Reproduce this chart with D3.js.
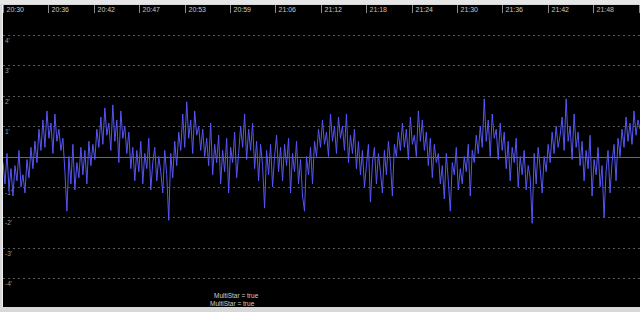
<!DOCTYPE html>
<html><head><meta charset="utf-8">
<script src="https://cdn.jsdelivr.net/npm/d3@7"></script>
<style>html,body{margin:0;padding:0;background:#d8d8d8;overflow:hidden}svg{display:block}</style>
</head><body>
<script>
const timeLabels = ["20:30","20:36","20:42","20:47","20:53","20:59","21:06","21:12","21:18","21:24","21:30","21:36","21:42","21:48",""];
const highlightLabels = ["21:18","21:48"];
const yTicks = [4,3,2,1,0,-1,-2,-3,-4];
const footerLines = ["MultiStar = true","MultiStar = true"];
const values = [
-0.2,-0.9,0.1,-1.1,-0.4,-1.3,-0.3,-0.8,0.2,-1.0,
-0.6,-1.2,-0.1,-0.7,0.3,-0.4,0.5,-0.2,0.9,0.2,
1.2,0.3,1.5,0.6,1.1,0.1,1.4,0.5,0.9,0.2,
0.6,-0.5,-1.8,0.0,-0.9,0.4,-1.1,-0.2,-0.7,0.3,
-0.6,0.2,-0.9,0.5,-0.3,0.4,-0.1,0.9,0.3,1.3,
0.4,1.6,0.7,1.1,0.2,1.7,0.5,1.2,-0.2,1.5,
0.6,1.0,0.1,0.8,-0.4,0.3,-0.8,0.2,-0.5,0.5,
-0.9,0.1,-0.4,0.6,-1.1,-0.2,0.3,-0.8,0.0,-0.5,
-1.2,0.2,-0.6,-2.1,0.1,-0.7,0.5,-0.3,0.8,0.2,
1.4,0.3,1.8,0.6,1.2,0.1,1.5,0.7,1.0,0.2,
0.9,0.0,0.6,-0.3,1.1,-0.6,0.4,-0.2,0.7,-0.9,
0.2,-0.5,0.6,-1.2,0.3,-0.2,0.8,-0.7,0.1,1.0,
0.3,1.4,-0.1,0.9,0.2,1.1,-0.4,0.5,-0.8,0.4,
-0.3,-1.7,0.2,-0.6,0.4,-1.0,0.0,0.7,-0.5,0.3,
-0.8,0.4,-0.3,0.6,-1.2,0.1,-0.5,0.5,-0.9,-0.1,
-1.3,-1.8,0.0,-0.6,0.3,-0.9,0.5,0.0,0.9,0.3,
1.2,0.4,0.8,0.0,1.4,0.5,1.0,0.1,1.3,0.6,
1.0,0.2,1.4,-0.2,0.7,0.1,0.9,-0.4,0.5,-0.6,
0.2,-1.0,-0.3,0.4,-1.5,-0.2,0.3,-0.9,0.1,-0.5,
-1.2,0.2,-0.6,0.5,-0.2,-1.3,0.4,0.0,0.8,0.2,
1.1,0.3,0.9,-0.1,1.3,0.4,0.7,0.0,1.5,0.5,
1.2,0.2,0.8,-0.3,0.6,-0.7,0.4,-0.2,0.1,-0.9,
-0.3,-1.4,0.1,-0.8,-1.8,-0.2,-0.6,0.3,-1.1,-0.4,
-0.9,0.0,-0.5,0.4,-1.3,0.2,-0.2,0.7,0.1,1.0,
0.3,1.9,0.5,1.2,0.0,1.4,0.6,0.9,-0.1,1.1,
0.2,0.8,-0.4,0.5,-0.8,0.3,-0.2,0.6,-1.0,0.0,
-0.6,0.2,-1.1,-0.3,-0.7,-2.2,0.1,-0.9,0.3,-0.4,
-1.2,0.0,-0.5,0.4,-0.2,0.8,0.1,1.0,0.3,0.7,
1.3,0.2,1.9,0.5,1.0,-0.1,1.4,0.3,0.8,-0.3,
0.5,-0.8,0.2,-0.4,0.7,-1.3,-0.1,-0.6,0.3,-1.0,
-0.3,-2.0,-0.5,0.2,-1.2,-0.2,0.4,-0.8,0.6,0.0,
0.9,0.3,1.3,0.5,1.1,0.4,1.5,0.7,1.2,0.9
];

(function(){
const W = 640, H = 312;
const pL = 3, pT = 5, pR = 640, pB = 307;
const svg = d3.select("body").append("svg").attr("width", W).attr("height", H);

svg.append("rect").attr("x",0).attr("y",0).attr("width",W).attr("height",H).attr("fill","#d8d8d8");
svg.append("rect").attr("x",0).attr("y",0).attr("width",W).attr("height",4).attr("fill","#e6e6e6");
svg.append("rect").attr("x",pL).attr("y",pT).attr("width",pR-pL).attr("height",pB-pT).attr("fill","#000");
svg.append("line").attr("x1",2.5).attr("x2",2.5).attr("y1",pT).attr("y2",pB).attr("stroke","#f0f0f0");

const x = d3.scaleLinear().domain([0, 14.03]).range([pL, pR]);
const y = d3.scaleLinear().domain([-4, 4]).range([278, 35]);

svg.append("defs").append("clipPath").attr("id","c")
  .append("rect").attr("x",pL).attr("y",pT).attr("width",pR-pL).attr("height",pB-pT);
const g = svg.append("g").attr("clip-path","url(#c)");

g.selectAll("line.grid").data(yTicks).enter().append("line")
  .attr("x1", pL).attr("x2", pR)
  .attr("y1", d => Math.round(y(d)) + 0.5).attr("y2", d => Math.round(y(d)) + 0.5)
  .attr("stroke", d => d === 0 ? "#6a6a6a" : "#5a5a5a")
  .attr("stroke-dasharray", d => d === 0 ? null : "2,3");

g.selectAll("text.ylab").data(yTicks.filter(d => d !== 0)).enter().append("text")
  .attr("x", 5).attr("y", d => Math.round(y(d)) + 8)
  .attr("font-family", "Arial, 'Liberation Sans', sans-serif").attr("font-size", "6.5px")
  .attr("fill", "#9a9a9a").text(d => d + "'");

const tk = g.selectAll("g.tk").data(timeLabels).enter().append("g")
  .attr("transform", (d,i) => `translate(${Math.round(x(i)) + 0.5},0)`);
tk.append("line").attr("y1", pT).attr("y2", 13).attr("stroke", "#8a8a8a");
tk.filter(d => d !== "").append("text").attr("x", 3).attr("y", 12)
  .attr("font-family", "Arial, 'Liberation Sans', sans-serif").attr("font-size", "7px")
  .attr("fill", d => highlightLabels.includes(d) ? "#d8b890" : "#c8c8c8").text(d => d);

const step = 14.03 / (values.length - 1);
const line = d3.line().x((d,i) => x(i * step)).y(d => y(d));
g.append("path").datum(values).attr("d", line)
  .attr("fill","none").attr("stroke","#5656f4").attr("stroke-width",1);

svg.selectAll("text.foot").data(footerLines).enter().append("text")
  .attr("x", (d,i) => i === 0 ? 214 : 210).attr("y", (d,i) => i === 0 ? 298 : 306)
  .attr("font-family", "Arial, 'Liberation Sans', sans-serif").attr("font-size", "6.5px")
  .attr("fill", "#d0d0d0").text(d => d);
})();
</script>
</body></html>
